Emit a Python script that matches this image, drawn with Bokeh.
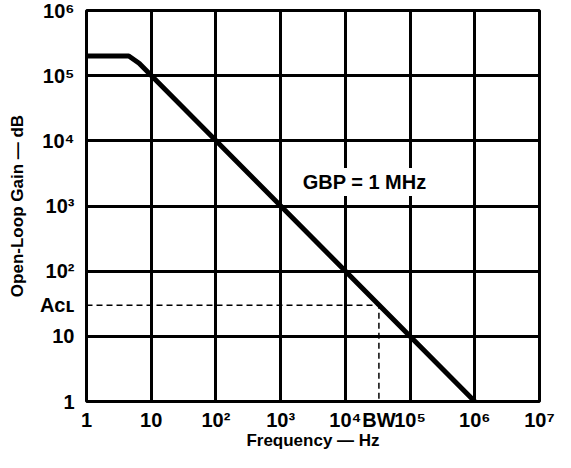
from bokeh.plotting import figure
from bokeh.models import FixedTicker, Label
from bokeh.embed import file_html
from bokeh.resources import INLINE

# ---- data ----
freq = [1, 4.5, 6.5, 1e6]
gain = [2e5, 2e5, 1.55e5, 1]

acl = 30
bw = 3.3e4
dash_x = [1, bw, bw]
dash_y = [acl, acl, 1]

x_ticks = [1, 10, 100, 1e3, 1e4, 1e5, 1e6, 1e7]
x_labels = ["1", "10", "10²", "10³", "10⁴", "10⁵", "10⁶", "10⁷"]
y_ticks = [1, 10, 100, 1e3, 1e4, 1e5, 1e6]
y_labels = ["1", "10", "10²", "10³", "10⁴", "10⁵", "10⁶"]

FONT = "Liberation Sans"

p = figure(width=555, height=452, x_axis_type="log", y_axis_type="log",
           x_range=(1, 1e7), y_range=(1, 1e6),
           output_backend="svg", toolbar_location=None,
           min_border_left=86, min_border_right=16, min_border_top=10,
           min_border_bottom=44)

p.outline_line_color = "black"
p.outline_line_width = 3
p.background_fill_color = "white"
p.border_fill_color = "white"

# annotation ticks (A_CL on the gain axis, BW on the frequency axis)
xt = x_ticks + [bw]
yt = y_ticks + [acl]
x_over = {float(t): l for t, l in zip(x_ticks, x_labels)}
x_over[float(bw)] = "BW"
y_over = {float(t): l for t, l in zip(y_ticks, y_labels)}
y_over[float(acl)] = "Aᴄʟ"

p.xaxis.ticker = FixedTicker(ticks=xt)
p.yaxis.ticker = FixedTicker(ticks=yt)
p.xaxis.major_label_overrides = x_over
p.yaxis.major_label_overrides = y_over

for ax in (p.xaxis, p.yaxis):
    ax.axis_line_color = None
    ax.major_tick_line_color = None
    ax.minor_tick_line_color = None
    ax.major_tick_out = 0
    ax.major_tick_in = 0
    ax.major_label_text_font = FONT
    ax.major_label_text_font_style = "bold"
    ax.major_label_text_font_size = "20px"
    ax.major_label_text_color = "black"
    ax.axis_label_text_font = FONT
    ax.axis_label_text_font_style = "bold"
    ax.axis_label_text_font_size = "17px"
    ax.axis_label_text_color = "black"

p.xaxis.major_label_standoff = 7
p.yaxis.major_label_standoff = 12
p.xaxis.axis_label = "Frequency — Hz"
p.yaxis.axis_label = "Open-Loop Gain — dB"
p.xaxis.axis_label_standoff = -3
p.yaxis.axis_label_standoff = 10

for g in (p.xgrid, p.ygrid):
    g.grid_line_color = "black"
    g.grid_line_width = 3
    g.grid_line_alpha = 1.0
p.xgrid.ticker = FixedTicker(ticks=x_ticks)
p.ygrid.ticker = FixedTicker(ticks=y_ticks)

p.line(dash_x, dash_y, line_color="black", line_width=1.5, line_dash="6 4")
p.line(freq, gain, line_color="black", line_width=5, line_join="round")

p.add_layout(Label(x=1e3, y=1e3, x_offset=19, y_offset=24, text="GBP = 1 MHz",
                   text_font=FONT, text_font_style="bold", text_font_size="20px",
                   text_color="black", text_baseline="middle", text_align="left",
                   background_fill_color="white", padding=3))

open("out.html", "w").write(file_html(p, INLINE))
